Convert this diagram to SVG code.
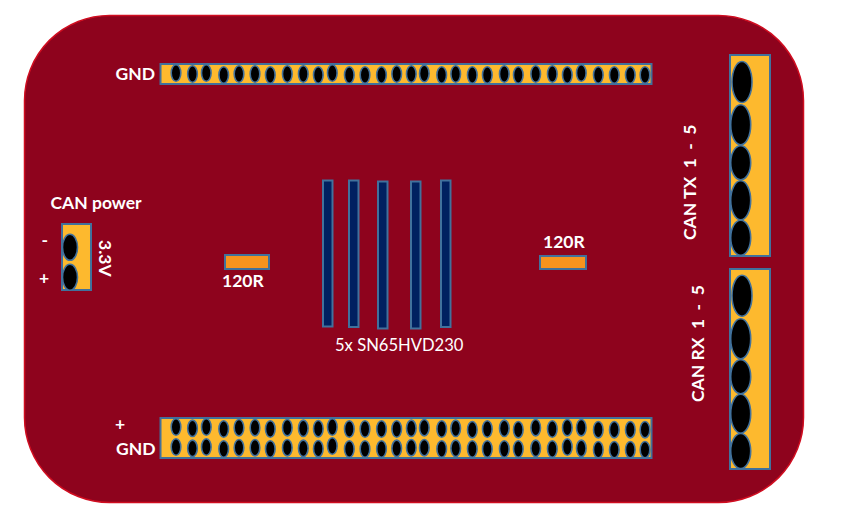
<svg xmlns="http://www.w3.org/2000/svg" width="841" height="527" viewBox="0 0 841 527">
<style>
text{font-family:"Lato","Open Sans","Liberation Sans",sans-serif;fill:#fff;font-size:17.500px;font-weight:700;white-space:pre}
.reg{font-weight:400;font-size:16.600px}
.pad{fill:#FDB92E;stroke:#41719C;stroke-width:2}
.res{fill:#F7931E;stroke:#41719C;stroke-width:2}
.chip{fill:#002060;stroke:#41719C;stroke-width:2}
ellipse{fill:#000;stroke:#41719C;stroke-width:1.600}
</style>
<defs><ellipse id="h" rx="4.800" ry="8.200"/></defs>
<rect width="841" height="527" fill="#fff"/>
<rect id="board" x="24.500" y="15.500" width="779" height="487" rx="85" ry="85" fill="#8E031D" stroke="#D00D20" stroke-width="1.500"/>
<g id="header-top">
<rect class="pad" x="160.500" y="64" width="491" height="20"/>
<use href="#h" x="176" y="73"/><use href="#h" x="192.500" y="74"/><use href="#h" x="206.300" y="73"/><use href="#h" x="223.700" y="75"/><use href="#h" x="239" y="74"/><use href="#h" x="255" y="74"/><use href="#h" x="270.300" y="75"/><use href="#h" x="287.300" y="74"/><use href="#h" x="303.300" y="74"/><use href="#h" x="318.300" y="75"/><use href="#h" x="332.300" y="73"/><use href="#h" x="349.300" y="75"/><use href="#h" x="365" y="75"/><use href="#h" x="381.500" y="75"/><use href="#h" x="396.700" y="74"/><use href="#h" x="411.300" y="74"/><use href="#h" x="424.300" y="73.500"/><use href="#h" x="441.700" y="75"/><use href="#h" x="455.700" y="74"/><use href="#h" x="472.300" y="75"/><use href="#h" x="487.300" y="75"/><use href="#h" x="504.300" y="74"/><use href="#h" x="518.300" y="75"/><use href="#h" x="535.700" y="74"/><use href="#h" x="552.300" y="74"/><use href="#h" x="567.300" y="75"/><use href="#h" x="581.300" y="73"/><use href="#h" x="598.300" y="75"/><use href="#h" x="614.300" y="75"/><use href="#h" x="630.300" y="75"/><use href="#h" x="645" y="75"/>
<text x="115.500" y="79.500">GND</text>
</g>
<g id="header-bottom">
<rect class="pad" x="160.500" y="418" width="491" height="40"/>
<use href="#h" x="176" y="427"/><use href="#h" x="192.500" y="428.300"/><use href="#h" x="206.300" y="427"/><use href="#h" x="223.700" y="429"/><use href="#h" x="239" y="427.700"/><use href="#h" x="255" y="427.700"/><use href="#h" x="270.300" y="429"/><use href="#h" x="287.300" y="427.700"/><use href="#h" x="303.300" y="428.300"/><use href="#h" x="318.300" y="428.700"/><use href="#h" x="332.300" y="427"/><use href="#h" x="349.300" y="429"/><use href="#h" x="365" y="429"/><use href="#h" x="381.500" y="429"/><use href="#h" x="396.700" y="429"/><use href="#h" x="411.300" y="428.300"/><use href="#h" x="424.300" y="427.700"/><use href="#h" x="441.700" y="429"/><use href="#h" x="455.700" y="428.300"/><use href="#h" x="472.300" y="429.700"/><use href="#h" x="487.300" y="429"/><use href="#h" x="504.300" y="428.300"/><use href="#h" x="518.300" y="429.700"/><use href="#h" x="535.700" y="427.700"/><use href="#h" x="552.300" y="429"/><use href="#h" x="567.300" y="427.700"/><use href="#h" x="581.300" y="427.700"/><use href="#h" x="598.300" y="429.700"/><use href="#h" x="614.300" y="429.700"/><use href="#h" x="630.300" y="429.700"/><use href="#h" x="645" y="429.700"/>
<use href="#h" x="176" y="447"/><use href="#h" x="192.500" y="448.300"/><use href="#h" x="206.300" y="447"/><use href="#h" x="223.700" y="449"/><use href="#h" x="239" y="447.700"/><use href="#h" x="255" y="447.700"/><use href="#h" x="270.300" y="449"/><use href="#h" x="287.300" y="447.700"/><use href="#h" x="303.300" y="448.300"/><use href="#h" x="318.300" y="448.700"/><use href="#h" x="332.300" y="446"/><use href="#h" x="349.300" y="449"/><use href="#h" x="365" y="449"/><use href="#h" x="381.500" y="449"/><use href="#h" x="396.700" y="448.300"/><use href="#h" x="411.300" y="447.700"/><use href="#h" x="424.300" y="447.700"/><use href="#h" x="441.700" y="449"/><use href="#h" x="455.700" y="448.300"/><use href="#h" x="472.300" y="449"/><use href="#h" x="487.300" y="449"/><use href="#h" x="504.300" y="449"/><use href="#h" x="518.300" y="449"/><use href="#h" x="535.700" y="448.300"/><use href="#h" x="552.300" y="449"/><use href="#h" x="567.300" y="447"/><use href="#h" x="581.300" y="448.300"/><use href="#h" x="598.300" y="449.700"/><use href="#h" x="614.300" y="449.700"/><use href="#h" x="630.300" y="449.700"/><use href="#h" x="645" y="449.700"/>
<text x="115" y="430">+</text>
<text x="116" y="454.500">GND</text>
</g>
<g id="can-tx">
<rect class="pad" x="730" y="55" width="40" height="201"/>
<ellipse cx="742" cy="82" rx="10" ry="20.500"/><ellipse cx="740.700" cy="124.700" rx="10" ry="20"/><ellipse cx="740.700" cy="162.700" rx="10" ry="17"/><ellipse cx="740.700" cy="200.300" rx="10" ry="19.500"/><ellipse cx="740.700" cy="237.700" rx="10" ry="17.500"/>
<text transform="translate(696 240) rotate(-90)">CAN TX  1  -  5</text>
</g>
<g id="can-rx">
<rect class="pad" x="730" y="269" width="40" height="200"/>
<ellipse cx="742" cy="295.700" rx="10" ry="20.500"/><ellipse cx="740.700" cy="338.700" rx="10" ry="20"/><ellipse cx="740.700" cy="376.700" rx="10" ry="17"/><ellipse cx="740.700" cy="413.700" rx="10" ry="19.500"/><ellipse cx="740.700" cy="451" rx="10" ry="17.500"/>
<text transform="translate(704 402) rotate(-90)">CAN RX  1  -  5</text>
</g>
<g id="can-power">
<rect class="pad" x="62" y="224" width="29" height="66"/>
<ellipse cx="70" cy="247.300" rx="7.500" ry="13"/><ellipse cx="70" cy="277.300" rx="7.500" ry="13"/>
<text x="50.500" y="208.500">CAN power</text>
<text x="41.500" y="246">-</text>
<text x="39" y="284">+</text>
<text transform="translate(99 240) rotate(90)">3.3V</text>
</g>
<g id="transceivers">
<rect class="chip" x="323" y="180.500" width="9.500" height="146"/>
<rect class="chip" x="349" y="180.500" width="9.500" height="146.500"/>
<rect class="chip" x="378" y="181.500" width="9.500" height="147"/>
<rect class="chip" x="411" y="181.500" width="9.500" height="147"/>
<rect class="chip" x="441" y="180.500" width="9.500" height="146.500"/>
<text class="reg" x="335" y="351">5x SN65HVD230</text>
</g>
<g id="resistor-left">
<rect class="res" x="225" y="255" width="44" height="14"/>
<text x="222" y="287">120R</text>
</g>
<g id="resistor-right">
<rect class="res" x="540" y="256" width="46" height="13"/>
<text x="543" y="248">120R</text>
</g>
<g id="connectors"></g>
</svg>
